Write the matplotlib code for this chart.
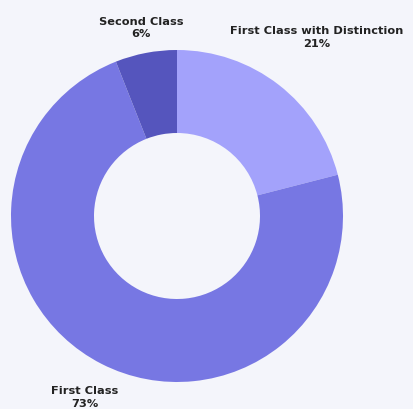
import matplotlib
matplotlib.use("Agg")
import matplotlib.pyplot as plt
import numpy as np

# grade distribution
labels = ['First Class with Distinction', 'First Class', 'Second Class']
shares = [21, 73, 6]
colors = ['#a3a2fb', '#7777e3', '#5555bd']
label_dist = [1.37, 1.22, 1.16]  # how far out each label sits

bg = '#f4f5fb'

fig = plt.figure(figsize=(4.13, 4.10), dpi=100, facecolor=bg)
ax = fig.add_axes([0, 0, 1, 1])
ax.set_facecolor(bg)

wedges, _ = ax.pie(shares, colors=colors, startangle=90, counterclock=False,
                   radius=1, wedgeprops=dict(width=0.5, linewidth=0))

for w, lab, val, d in zip(wedges, labels, shares, label_dist):
    ang = np.deg2rad((w.theta1 + w.theta2) / 2)
    ax.text(d * np.cos(ang), d * np.sin(ang), "%s\n%d%%" % (lab, val),
            ha='center', va='center', fontsize=8.2, fontweight='bold',
            color='#222222', linespacing=1.3)

# center at (177, 217) px from top-left, radius 166 px
s = 166.0
ax.set_xlim(-177 / s, (413 - 177) / s)
ax.set_ylim(-(410 - 217) / s, 217 / s)
ax.axis('off')

fig.savefig("out.png", dpi=100, facecolor=bg)
